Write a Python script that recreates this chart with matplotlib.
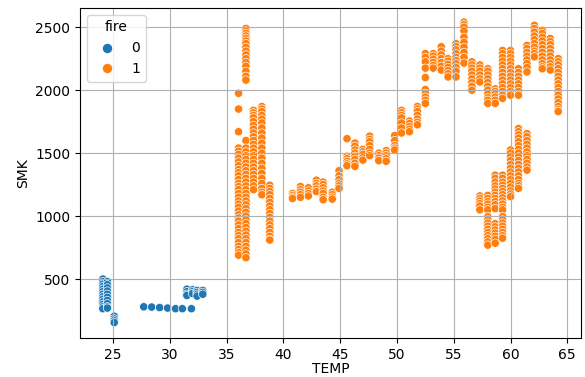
import pandas as pd
import matplotlib
matplotlib.use("Agg")
import matplotlib.pyplot as plt
from matplotlib.lines import Line2D
import seaborn as sns

# fire = 0 : temperature columns and the SMK readings stacked on each
no_fire_temp = [24.1, 24.5, 25.1, 27.7, 28.4, 29.1, 29.8, 30.5, 31.1, 31.9,
                31.5, 32.0, 32.4, 32.9]
no_fire_smk = [
    [500, 480, 460, 440, 420, 400, 380, 360, 340, 320, 300, 280, 265],
    [480, 455, 430, 405, 380, 355, 330, 305, 280, 270],
    [205, 185, 170, 155],
    [280], [278], [274], [270], [265], [265], [265],
    [420, 400, 380, 370],
    [415, 400, 385],
    [410, 395, 380, 365],
    [410, 395, 380],
]

# fire = 1
fire_temp = [36.05, 36.7, 37.36, 38.1, 38.8, 40.8, 41.5, 42.2, 42.9, 43.5,
             44.3, 44.9, 45.6, 46.3, 47.0, 47.6, 48.4, 49.05, 49.8, 50.4,
             51.1, 51.8, 52.5, 53.2, 53.9, 54.5, 55.2, 55.9, 56.6, 57.3,
             58.0, 58.65, 59.3, 60.0, 60.7, 61.45, 62.1, 62.8, 63.5, 64.2]
fire_smk = [
    [1975, 1850, 1670, 1540, 1515, 1490, 1460, 1430, 1400, 1370, 1345, 1320,
     1290, 1260, 1235, 1210, 1180, 1150, 1120, 1095, 1070, 1040, 1010, 985,
     960, 930, 900, 870, 845, 820, 790, 760, 735, 710, 690],
    [2490, 2470, 2450, 2430, 2410, 2390, 2370, 2340, 2310, 2280, 2250, 2220,
     2190, 2150, 2110, 2080, 1600, 1540, 1510, 1480, 1450, 1420, 1390, 1360,
     1330, 1300, 1270, 1240, 1210, 1180, 1150, 1120, 1090, 1060, 1030, 1000,
     970, 940, 910, 880, 850, 820, 790, 760, 730, 700, 670],
    [1840, 1820, 1800, 1780, 1750, 1720, 1690, 1660, 1630, 1600, 1570, 1540,
     1510, 1480, 1450, 1420, 1390, 1360, 1330, 1300, 1270, 1240, 1210],
    [1870, 1850, 1830, 1800, 1770, 1740, 1700, 1660, 1620, 1580, 1540, 1500,
     1460, 1420, 1380, 1340, 1300, 1260, 1220, 1190, 1170],
    [1245, 1220, 1195, 1170, 1140, 1110, 1080, 1050, 1020, 990, 960, 930,
     900, 870, 840, 815, 810],
    [1180, 1165, 1150, 1140],
    [1235, 1210, 1190, 1170, 1150],
    [1225, 1200, 1180, 1160],
    [1285, 1260, 1240, 1215, 1195],
    [1270, 1250, 1225, 1200, 1180, 1150, 1130],
    [1190, 1170, 1150, 1135],
    [1360, 1320, 1290, 1260, 1240, 1220],
    [1615, 1475, 1455, 1435, 1415, 1400],
    [1580, 1555, 1525, 1500, 1475, 1450, 1420, 1395],
    [1530, 1510, 1490, 1465, 1445],
    [1635, 1610, 1590, 1560, 1530, 1500, 1480],
    [1500, 1480, 1460, 1440],
    [1520, 1500, 1480, 1455, 1435],
    [1640, 1600, 1560, 1540, 1525],
    [1840, 1820, 1800, 1780, 1740, 1700, 1660],
    [1755, 1735, 1710, 1690, 1670],
    [1870, 1850, 1830, 1800, 1770, 1745, 1725],
    [2290, 2260, 2225, 2175, 2100, 2005, 1975, 1945, 1920, 1895],
    [2290, 2270, 2245, 2220, 2195, 2175],
    [2345, 2310, 2280, 2250, 2220, 2190, 2160],
    [2250, 2230, 2205, 2180, 2155, 2130, 2105],
    [2370, 2345, 2320, 2290, 2260, 2235, 2210, 2180, 2150, 2105],
    [2540, 2520, 2500, 2470, 2420, 2380, 2340, 2300, 2260, 2215],
    [2225, 2200, 2175, 2150, 2120, 2090, 2060, 2030, 2000],
    [2200, 2175, 2150, 2120, 2090, 2065, 1160, 1140, 1120, 1100, 1080, 1050],
    [2170, 2150, 2120, 2090, 2060, 2030, 2000, 1970, 1940, 1920, 1895,
     1165, 1140, 1115, 1095, 1070, 1050, 995, 970, 945, 920, 895, 870, 845,
     820, 795, 770],
    [2010, 1990, 1970, 1945, 1920, 1895, 1325, 1300, 1270, 1240, 1215, 1190,
     1165, 1140, 1115, 1090, 1060, 940, 915, 890, 865, 840, 815, 785],
    [2315, 2290, 2260, 2230, 2200, 2170, 2140, 2110, 2080, 2050, 2020, 1990,
     1960, 1935, 1325, 1300, 1270, 1245, 1220, 1195, 1170, 1145, 1120, 1095,
     1070, 1050, 995, 970, 945, 920, 895, 870, 845, 825],
    [2315, 2290, 2260, 2230, 2200, 2170, 2140, 2110, 2080, 2050, 2020, 1990,
     1960, 1525, 1500, 1470, 1440, 1410, 1380, 1350, 1320, 1290, 1260, 1230,
     1200, 1175, 1155],
    [2170, 2140, 2110, 2080, 2050, 2020, 1990, 1960, 1695, 1670, 1645, 1620,
     1590, 1560, 1530, 1500, 1470, 1440, 1410, 1380, 1350, 1320, 1290, 1260,
     1240, 1220],
    [2355, 2330, 2300, 2270, 2240, 2210, 2180, 2145, 1655, 1630, 1600, 1570,
     1540, 1510, 1480, 1450, 1420, 1390, 1365],
    [2515, 2490, 2460, 2430, 2400, 2370, 2340, 2310, 2290, 2265],
    [2475, 2450, 2420, 2390, 2360, 2330, 2300, 2270, 2240, 2210, 2185, 2170],
    [2410, 2385, 2360, 2330, 2300, 2270, 2240, 2210, 2185, 2160],
    [2250, 2225, 2200, 2170, 2140, 2110, 2080, 2050, 2020, 1990, 1960, 1930,
     1900, 1870, 1845, 1830],
]

fire_labels = ["0", "1"]
colors = ["#1f77b4", "#ff7f0e"]

rows = []
for fire, temps, smks in [(0, no_fire_temp, no_fire_smk), (1, fire_temp, fire_smk)]:
    for t, vals in zip(temps, smks):
        for v in vals:
            rows.append({"TEMP": t, "SMK": v, "fire": fire})
df = pd.DataFrame(rows)

fig = plt.figure(figsize=(5.85, 3.77), dpi=100)
ax = fig.add_axes([0.137, 0.104, 0.857, 0.875])
sns.scatterplot(data=df, x="TEMP", y="SMK", hue="fire", palette=colors,
                legend=False, ax=ax)
ax.grid(True)
ax.set_xlim(22.1, 66.25)
ax.set_ylim(34, 2653)
ax.set_xticks([25, 30, 35, 40, 45, 50, 55, 60, 65])
ax.set_yticks([500, 1000, 1500, 2000, 2500])
ax.set_xlabel("TEMP", labelpad=0.5)

handles = [Line2D([], [], ls="", marker="o", markersize=6.8, color=c,
                  markeredgewidth=0) for c in colors]
ax.legend(handles, fire_labels, title="fire", loc="upper left")

fig.savefig("out.png", dpi=100)
